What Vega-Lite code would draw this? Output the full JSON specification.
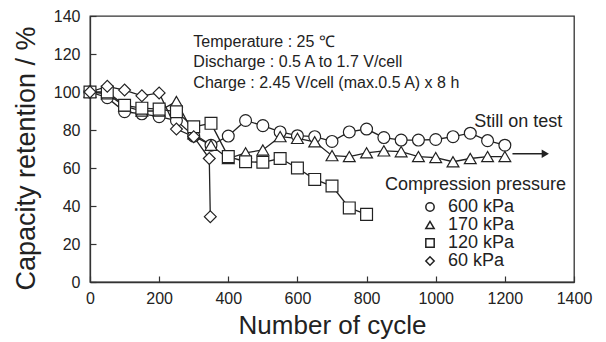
{
  "$schema": "https://vega.github.io/schema/vega-lite/v6.json",
  "autosize": {"type": "none"},
  "padding": {"left": 90, "top": 16, "right": 32, "bottom": 60},
  "width": 484,
  "height": 266,
  "background": "white",
  "config": {
    "view": {"stroke": "#333", "strokeWidth": 1.3},
    "font": "Liberation Sans",
    "axis": {"grid": false, "domainColor": "#333", "tickColor": "#333", "labelColor": "#222", "titleColor": "#222", "labelFont": "Liberation Sans", "titleFont": "Liberation Sans", "labelFontSize": 16, "titleFontWeight": "normal", "domainWidth": 1.3, "tickWidth": 1.2, "labelOverlap": false, "format": "d", "labelFlush": false}
  },
  "datasets": {
    "series": [
      {"k": 1, "p": "600 kPa", "n": 0, "v": 100},
      {"k": 2, "p": "600 kPa", "n": 50, "v": 97},
      {"k": 3, "p": "600 kPa", "n": 100, "v": 89.6},
      {"k": 4, "p": "600 kPa", "n": 150, "v": 88.5},
      {"k": 5, "p": "600 kPa", "n": 200, "v": 87},
      {"k": 6, "p": "600 kPa", "n": 250, "v": 85},
      {"k": 7, "p": "600 kPa", "n": 300, "v": 76.8},
      {"k": 8, "p": "600 kPa", "n": 350, "v": 72},
      {"k": 9, "p": "600 kPa", "n": 400, "v": 76.8},
      {"k": 10, "p": "600 kPa", "n": 450, "v": 85},
      {"k": 11, "p": "600 kPa", "n": 500, "v": 82.3},
      {"k": 12, "p": "600 kPa", "n": 550, "v": 79},
      {"k": 13, "p": "600 kPa", "n": 600, "v": 77},
      {"k": 14, "p": "600 kPa", "n": 650, "v": 76.5},
      {"k": 15, "p": "600 kPa", "n": 700, "v": 74},
      {"k": 16, "p": "600 kPa", "n": 750, "v": 79},
      {"k": 17, "p": "600 kPa", "n": 800, "v": 80.5},
      {"k": 18, "p": "600 kPa", "n": 850, "v": 76},
      {"k": 19, "p": "600 kPa", "n": 900, "v": 74.7},
      {"k": 20, "p": "600 kPa", "n": 950, "v": 74.7},
      {"k": 21, "p": "600 kPa", "n": 1000, "v": 75},
      {"k": 22, "p": "600 kPa", "n": 1050, "v": 76.5},
      {"k": 23, "p": "600 kPa", "n": 1100, "v": 78.3},
      {"k": 24, "p": "600 kPa", "n": 1150, "v": 74.4},
      {"k": 25, "p": "600 kPa", "n": 1200, "v": 72},
      {"k": 1, "p": "170 kPa", "n": 0, "v": 100},
      {"k": 2, "p": "170 kPa", "n": 50, "v": 99},
      {"k": 3, "p": "170 kPa", "n": 100, "v": 92.6},
      {"k": 4, "p": "170 kPa", "n": 150, "v": 90},
      {"k": 5, "p": "170 kPa", "n": 200, "v": 90},
      {"k": 6, "p": "170 kPa", "n": 250, "v": 95},
      {"k": 7, "p": "170 kPa", "n": 300, "v": 78},
      {"k": 8, "p": "170 kPa", "n": 350, "v": 72},
      {"k": 9, "p": "170 kPa", "n": 400, "v": 65},
      {"k": 10, "p": "170 kPa", "n": 450, "v": 68},
      {"k": 11, "p": "170 kPa", "n": 500, "v": 69.5},
      {"k": 12, "p": "170 kPa", "n": 550, "v": 76.5},
      {"k": 13, "p": "170 kPa", "n": 600, "v": 75.6},
      {"k": 14, "p": "170 kPa", "n": 650, "v": 73.8},
      {"k": 15, "p": "170 kPa", "n": 700, "v": 66.5},
      {"k": 16, "p": "170 kPa", "n": 750, "v": 66},
      {"k": 17, "p": "170 kPa", "n": 800, "v": 68},
      {"k": 18, "p": "170 kPa", "n": 850, "v": 69},
      {"k": 19, "p": "170 kPa", "n": 900, "v": 68.6},
      {"k": 20, "p": "170 kPa", "n": 950, "v": 66},
      {"k": 21, "p": "170 kPa", "n": 1000, "v": 65.5},
      {"k": 22, "p": "170 kPa", "n": 1050, "v": 63.3},
      {"k": 23, "p": "170 kPa", "n": 1100, "v": 65},
      {"k": 24, "p": "170 kPa", "n": 1150, "v": 66},
      {"k": 25, "p": "170 kPa", "n": 1200, "v": 66},
      {"k": 1, "p": "120 kPa", "n": 0, "v": 100},
      {"k": 2, "p": "120 kPa", "n": 50, "v": 100},
      {"k": 3, "p": "120 kPa", "n": 100, "v": 93},
      {"k": 4, "p": "120 kPa", "n": 150, "v": 91.5},
      {"k": 5, "p": "120 kPa", "n": 200, "v": 91},
      {"k": 6, "p": "120 kPa", "n": 250, "v": 89.6},
      {"k": 7, "p": "120 kPa", "n": 300, "v": 81.7},
      {"k": 8, "p": "120 kPa", "n": 350, "v": 83.5},
      {"k": 9, "p": "120 kPa", "n": 400, "v": 66},
      {"k": 10, "p": "120 kPa", "n": 450, "v": 63.3},
      {"k": 11, "p": "120 kPa", "n": 500, "v": 63},
      {"k": 12, "p": "120 kPa", "n": 550, "v": 65},
      {"k": 13, "p": "120 kPa", "n": 600, "v": 60},
      {"k": 14, "p": "120 kPa", "n": 650, "v": 54},
      {"k": 15, "p": "120 kPa", "n": 700, "v": 50.5},
      {"k": 16, "p": "120 kPa", "n": 750, "v": 39},
      {"k": 17, "p": "120 kPa", "n": 800, "v": 35.6},
      {"k": 1, "p": "60 kPa", "n": 0, "v": 100},
      {"k": 2, "p": "60 kPa", "n": 50, "v": 103},
      {"k": 3, "p": "60 kPa", "n": 100, "v": 101},
      {"k": 4, "p": "60 kPa", "n": 150, "v": 98},
      {"k": 5, "p": "60 kPa", "n": 200, "v": 99.5},
      {"k": 6, "p": "60 kPa", "n": 250, "v": 80.5},
      {"k": 7, "p": "60 kPa", "n": 300, "v": 76.5},
      {"k": 8, "p": "60 kPa", "n": 345, "v": 65},
      {"k": 9, "p": "60 kPa", "n": 348, "v": 34.4}
    ],
    "notes": [
      {"n": 299, "v": 126.5, "t": "Temperature : 25 ℃"},
      {"n": 299, "v": 115.8, "t": "Discharge : 0.5 A to 1.7 V/cell"},
      {"n": 299, "v": 104.8, "t": "Charge : 2.45 V/cell (max.0.5 A) x 8 h"}
    ],
    "notes2": [
      {"n": 1239, "v": 84.4, "t": "Still on test"},
      {"n": 1115, "v": 51, "t": "Compression pressure"}
    ],
    "arrow": [
      {"n": 1222, "v": 67.5},
      {"n": 1310, "v": 67.5}
    ],
    "head": [
      {"n": 1317, "v": 67.5}
    ]
  },
  "layer": [
    {
      "data": {"name": "series"},
      "mark": {"type": "line", "color": "#222", "strokeWidth": 1.3},
      "encoding": {
        "x": {"field": "n", "type": "quantitative", "scale": {"domain": [0, 1400], "nice": false}, "axis": {"values": [0, 200, 400, 600, 800, 1000, 1200, 1400], "title": "Number of cycle", "titleFontSize": 26, "ticks": true, "tickSize": -6, "labelPadding": 14, "titlePadding": 6, "labelOverlap": false}},
        "y": {"field": "v", "type": "quantitative", "scale": {"domain": [0, 140], "nice": false}, "axis": {"values": [0, 20, 40, 60, 80, 100, 120, 140], "tickCount": 8, "title": "Capacity retention / %", "titleFontSize": 27, "titleY": 142, "ticks": true, "tickSize": -6, "labelPadding": 16, "titlePadding": 13, "labelOverlap": false}},
        "detail": {"field": "p"},
        "order": {"field": "k"}
      }
    },
    {
      "data": {"name": "series"},
      "mark": {"type": "point", "filled": true, "fill": "white", "stroke": "#222", "strokeWidth": 1.2, "size": 140, "opacity": 1},
      "encoding": {
        "x": {"field": "n", "type": "quantitative"},
        "y": {"field": "v", "type": "quantitative"},
        "shape": {"field": "p", "type": "nominal", "scale": {"domain": ["600 kPa", "170 kPa", "120 kPa", "60 kPa"], "range": ["circle", "triangle-up", "square", "diamond"]},
          "legend": {"title": null, "orient": "none", "legendX": 331, "legendY": 182, "labelFontSize": 18, "labelFont": "Liberation Sans", "labelColor": "#222", "symbolSize": 70, "rowPadding": 0, "labelOffset": 9,
            "encode": {"symbols": {"update": {"fill": {"value": "white"}, "stroke": {"value": "#222"}, "strokeWidth": {"value": 1.2}, "opacity": {"value": 1}}}}}}
      }
    },
    {
      "data": {"name": "notes"},
      "mark": {"type": "text", "align": "left", "baseline": "middle", "fontSize": 16, "color": "#222", "font": "Liberation Sans"},
      "encoding": {
        "x": {"field": "n", "type": "quantitative"},
        "y": {"field": "v", "type": "quantitative"},
        "text": {"field": "t"}
      }
    },
    {
      "data": {"name": "notes2"},
      "mark": {"type": "text", "align": "center", "baseline": "middle", "fontSize": 18, "color": "#222", "font": "Liberation Sans"},
      "encoding": {
        "x": {"field": "n", "type": "quantitative"},
        "y": {"field": "v", "type": "quantitative"},
        "text": {"field": "t"}
      }
    },
    {
      "data": {"name": "arrow"},
      "mark": {"type": "line", "color": "#222", "strokeWidth": 1.5},
      "encoding": {
        "x": {"field": "n", "type": "quantitative"},
        "y": {"field": "v", "type": "quantitative"}
      }
    },
    {
      "data": {"name": "head"},
      "mark": {"type": "point", "shape": "triangle-right", "filled": true, "color": "#222", "size": 70, "opacity": 1},
      "encoding": {
        "x": {"field": "n", "type": "quantitative"},
        "y": {"field": "v", "type": "quantitative"}
      }
    }
  ]
}
